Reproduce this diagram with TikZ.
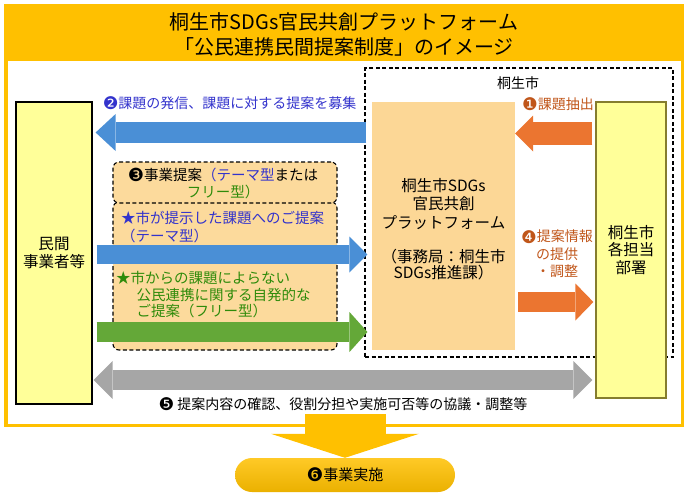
\documentclass[tikz,border=0pt]{standalone}
\usepackage{fontspec}
\setmainfont{Noto Sans CJK JP}
\newfontfamily\dingfont{DejaVu Sans}
\usetikzlibrary{arrows.meta}
\definecolor{gold}{HTML}{FFC000}
\definecolor{paleyel}{HTML}{FFFF99}
\definecolor{platorg}{HTML}{FCD796}
\definecolor{propfill}{HTML}{FCDA9C}
\definecolor{blockblue}{HTML}{4A8FD6}
\definecolor{blockgreen}{HTML}{64A838}
\definecolor{blockorange}{HTML}{EB7530}
\definecolor{blockgray}{HTML}{A6A6A6}
\definecolor{txtblue}{HTML}{3333CC}
\definecolor{txtgreen}{HTML}{2E8B0A}
\definecolor{txtbrown}{HTML}{C0561A}
\definecolor{olive}{HTML}{857D2E}
\newcommand{\cnum}[1]{\raisebox{-0.1em}{\scalebox{1.25}{\dingfont #1}}}
\newcommand{\fs}[2]{\fontsize{#1}{#2}\selectfont}

\begin{document}
\begin{tikzpicture}[x=1pt,y=-1pt,font=\fs{14}{17},
  deskbox/.style={fill=paleyel,line width=1.2pt,minimum width=70pt,align=center,font=\fs{15.5}{17.5}},
  dashbox/.style={draw,dashed,dash pattern=on 4pt off 2.5pt,line width=1.1pt},
  fatarrow/.style n args={3}{line width=#1,-{Triangle[length=#2,width=#3,line width=0pt]}},
  fatboth/.style n args={3}{line width=#1,{Triangle[length=#2,width=#3,line width=0pt]}-{Triangle[length=#2,width=#3,line width=0pt]}}]
  \useasboundingbox (0,0) rectangle (690,498);
  % frame and title
  \fill[gold] (4,4) rectangle (684,61);
  \draw[gold,line width=3.5pt] (5.75,5.75) rectangle (682.25,425.25);
  \node[align=center,font=\fs{20}{25}] (title) at (344,34)
    {桐生市SDGs官民共創プラットフォーム\\「公民連携民間提案制度」のイメージ};
  % city side
  \node[dashbox,minimum width=308pt,minimum height=289pt] (city) at (519,212.5) {};
  \node (citylab) at (518,83) {桐生市};
  \node[fill=platorg,minimum width=143pt,minimum height=248pt] (plat) at (443.5,226) {};
  \node[align=center,font=\fs{15.5}{18.5}] (platname) at (443.5,204) {桐生市SDGs\\官民共創\\プラットフォーム};
  \node[align=center,font=\fs{15.5}{16}] (platoffice) at (443.5,265) {（事務局：桐生市\\SDGs推進課）};
  \node[deskbox,draw=olive,minimum width=70pt,minimum height=296pt] (dept) at (631,250) {桐生市\\各担当\\部署};
  \node[deskbox,draw=black,minimum width=76pt,minimum height=302pt] (priv) at (54,253) {民間\\事業者等};
  % proposal boxes
  \node[dashbox,fill=propfill,rounded corners=6pt,minimum width=224pt,minimum height=148pt] (propbody) at (225,276) {};
  \node[dashbox,fill=propfill,rounded corners=6pt,minimum width=224pt,minimum height=41pt] (prophead) at (225,182.5) {};
  \node[align=center,font=\fs{14.5}{17}] (proptitle) at (223,183.5)
    {\cnum{❸}事業提案{\color{txtblue}（テーマ型}または\\{\color{txtgreen}フリー型）}};
  \node[anchor=west,align=left,inner sep=0pt,text=txtblue,font=\fs{14.5}{18}] (themetxt) at (121,227)
    {★市が提示した課題へのご提案\\（テーマ型）};
  \node[anchor=west,align=left,inner sep=0pt,text=txtgreen,font=\fs{14.5}{16.5}] (freetxt) at (116,295)
    {★市からの課題によらない\\\hspace*{1.4em}公民連携に関する自発的な\\\hspace*{1.4em}ご提案（フリー型）};
  % arrow rows
  \coordinate (r1) at (0,133.5);
  \coordinate (r2) at (0,132.5);
  \coordinate (r3) at (0,254.5);
  \coordinate (r4) at (0,332);
  \coordinate (r5) at (0,302);
  \coordinate (r6) at (0,380);
  \coordinate (fb) at (0,414);
  \draw[blockorange,fatarrow={23pt}{18pt}{36pt}] ([xshift=-3pt]dept.west |- r1) -- (plat.east |- r1);
  \draw[blockblue,fatarrow={21pt}{20pt}{37pt}] ([xshift=2pt]city.west |- r2) -- ([xshift=3pt]priv.east |- r2);
  \draw[blockblue,fatarrow={19pt}{18pt}{36pt}] ([xshift=4pt]priv.east |- r3) -- ([xshift=3pt]city.west |- r3);
  \draw[blockgreen,fatarrow={20pt}{18pt}{40pt}] ([xshift=4pt]priv.east |- r4) -- ([xshift=3pt]city.west |- r4);
  \draw[blockorange,fatarrow={20pt}{18pt}{37pt}] ([xshift=3pt]plat.east |- r5) -- ([xshift=-2pt]dept.west |- r5);
  \draw[blockgray,fatboth={20pt}{19pt}{38pt}] ([xshift=1pt]priv.east |- r6) -- ([xshift=-3pt]dept.west |- r6);
  % result
  \node[top color=gold!85!white,bottom color=gold!92!black,rounded corners=17pt,minimum width=220pt,minimum height=34pt,font=\fs{15}{17}] (impl) at (345,475) {\cnum{❻}事業実施};
  \draw[gold,fatarrow={81pt}{24pt}{148pt}] (impl.north |- fb) -- (impl.north);
  % labels
  \node[anchor=east,text=txtblue] (lab2) at (360,103) {\cnum{❷}課題の発信、課題に対する提案を募集};
  \node[text=txtbrown] (lab1) at (558,104) {\cnum{❶}課題抽出};
  \node[align=center,text=txtbrown,font=\fs{14}{17.5}] (lab4) at (557,254) {\cnum{❹}提案情報\\の提供\\・調整};
  \node (lab5) at (343,404) {\cnum{❺} 提案内容の確認、役割分担や実施可否等の協議・調整等};
\end{tikzpicture}
\end{document}
